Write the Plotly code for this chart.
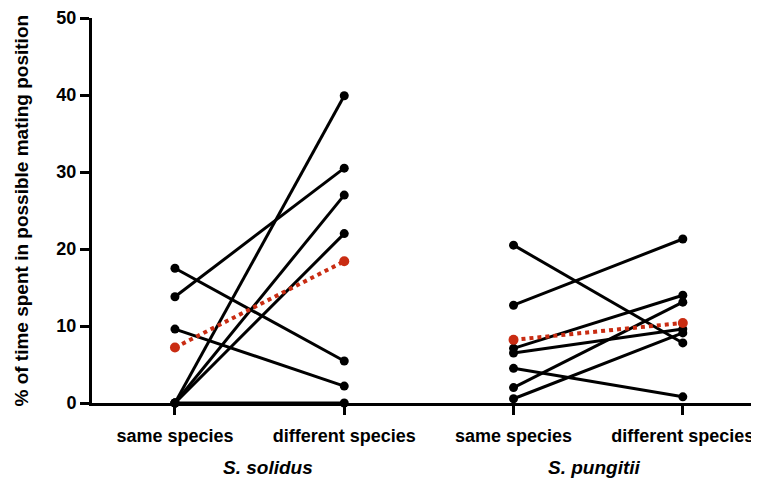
import plotly.graph_objects as go

categories = ["same species", "different species", "same species", "different species"]
groups = ["S. solidus", "S. pungitii"]
group_centers = [0.55, 2.48]
y_ticks = [0, 10, 20, 30, 40, 50]
y_title = "% of time spent in possible mating position"

# S. solidus paired values (same species, different species)
solidus_same = [17.5, 13.8, 9.6, 0.0, 0.0, 0.0, 0.0]
solidus_diff = [5.45, 30.5, 2.2, 39.9, 27.0, 22.0, 0.0]
solidus_mean = [7.2, 18.4]

# S. pungitii paired values
pungitii_same = [20.5, 12.7, 7.1, 6.5, 4.5, 2.0, 0.55]
pungitii_diff = [7.8, 21.3, 14.0, 9.6, 0.8, 13.1, 9.1]
pungitii_mean = [8.2, 10.4]

FONT = "Liberation Sans, Arial, Helvetica, sans-serif"
RED = "#c92c12"

fig = go.Figure()

def add_pairs(xpair, same, diff):
    for a, b in zip(same, diff):
        fig.add_trace(go.Scatter(
            x=xpair, y=[a, b], mode="lines+markers",
            line=dict(color="black", width=3),
            marker=dict(color="black", size=9),
            cliponaxis=False, showlegend=False, hoverinfo="y"))

add_pairs([0, 1], solidus_same, solidus_diff)
add_pairs([2, 3], pungitii_same, pungitii_diff)

for xpair, m in (([0, 1], solidus_mean), ([2, 3], pungitii_mean)):
    fig.add_trace(go.Scatter(
        x=xpair, y=m, mode="lines+markers",
        line=dict(color=RED, width=4, dash="dot"),
        marker=dict(color=RED, size=10),
        cliponaxis=False, showlegend=False, hoverinfo="y"))

for g, cx in zip(groups, group_centers):
    fig.add_annotation(
        x=cx, y=-0.168, xref="x", yref="paper",
        yanchor="middle", xanchor="center",
        text="<b><i>" + g + "</i></b>", showarrow=False,
        font=dict(family=FONT, size=19, color="black"))

fig.add_annotation(
    x=-0.1064, y=0.5, xref="paper", yref="paper",
    xanchor="center", yanchor="middle", textangle=-90,
    text="<b>" + y_title + "</b>", showarrow=False,
    font=dict(family=FONT, size=19, color="black"))

fig.update_layout(
    width=751, height=474,
    margin=dict(l=84, r=0, t=10, b=79, pad=0),
    plot_bgcolor="white", paper_bgcolor="white",
    font=dict(family=FONT, size=18, color="black"),
    xaxis=dict(
        range=[-0.49, 3.45], tickvals=[0, 1, 2, 3],
        ticktext=["<b>" + c + "</b>" for c in categories],
        showgrid=False, zeroline=False, showline=True,
        linecolor="black", linewidth=3,
        ticks="outside", ticklen=9, tickwidth=3, tickcolor="black",
        ticklabelstandoff=5,
        tickfont=dict(family=FONT, size=18)),
    yaxis=dict(
        range=[0, 50], tickvals=y_ticks,
        ticktext=["<b>%d</b>" % v for v in y_ticks],
        showgrid=False, zeroline=False, showline=True,
        linecolor="black", linewidth=3,
        ticks="outside", ticklen=9, tickwidth=3, tickcolor="black",
        tickfont=dict(family=FONT, size=18)),
)

fig.write_html("out.html")
